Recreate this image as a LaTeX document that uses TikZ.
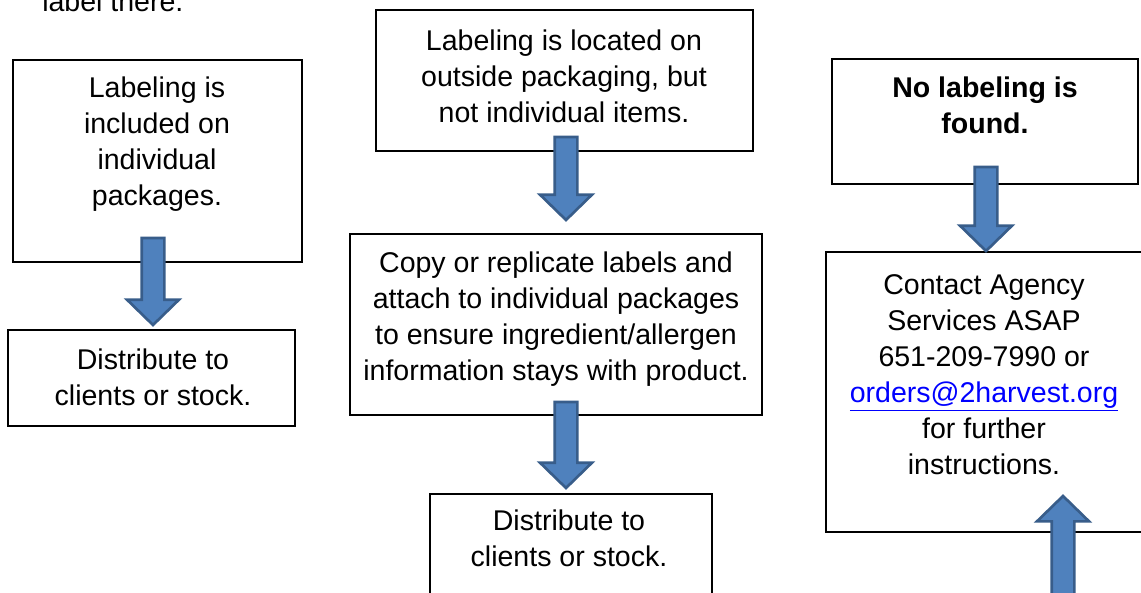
\documentclass[tikz,border=0pt]{standalone}
\usepackage{fontspec}
\setmainfont{Liberation Sans}
\usetikzlibrary{calc,fit}

\definecolor{arrowfill}{RGB}{79,129,189}
\definecolor{arrowline}{RGB}{56,93,138}
\definecolor{linkblue}{RGB}{0,0,255}

\tikzset{
  box/.style={draw, line width=1.1pt, fill=white, inner sep=0pt},
  txt/.style={align=center, inner sep=0pt, font=\fontsize{21.4}{27}\selectfont},
  blockarrow/.style={draw=arrowline, fill=arrowfill, line width=2pt, line join=miter,
    to path={let \p1=(\tikztostart), \p2=(\tikztotarget),
      \p3=($(\tikztotarget)!19pt!(\tikztostart)$) in
      (\x1-8.5pt,\y1) -- (\x1-8.5pt,\y3) -- (\x1-19.5pt,\y3) -- (\x2,\y2)
      -- (\x1+19.5pt,\y3) -- (\x1+8.5pt,\y3) -- (\x1+8.5pt,\y1) -- cycle}}
}

\begin{document}
\begin{tikzpicture}[x=0.75pt,y=0.75pt,yscale=-1,xscale=1]
\useasboundingbox (0,0) rectangle (1141,592);

%Shape: Rectangle
\node[box, fit={(13,60) (302,262)}] (lab) {};
%Shape: Rectangle
\node[box, fit={(8,330) (295,426)}] (dist) {};
%Shape: Rectangle
\node[box, fit={(376,10) (753,151)}] (outer) {};
%Shape: Rectangle
\node[box, fit={(350,234) (762,415)}] (copy) {};
%Shape: Rectangle
\node[box, fit={(430,494) (712,610)}] (distb) {};
%Shape: Rectangle
\node[box, fit={(832,59) (1138,184)}] (nolab) {};
%Shape: Rectangle
\node[box, fit={(826,252) (1160,532)}] (contact) {};

% Text Node
\node[txt, anchor=base west] (prev) at (42,12) {label there.};
% Text Node
\node[txt] (labtxt) at (157,144) {Labeling is\\included on\\individual\\packages.};
% Text Node
\node[txt] (disttxt) at (153,377) {Distribute to\\clients or stock.};
% Text Node
\node[txt] (outertxt) at (564,76) {Labeling is located on\\outside packaging, but\\not individual items.};
% Text Node
\node[txt] (copytxt) at (556,319) {Copy or replicate labels and\\attach to individual packages\\to ensure ingredient/allergen\\information stays with product.};
% Text Node
\node[txt] (distbtxt) at (569,538) {Distribute to\\clients or stock.};
% Text Node
\node[txt, font=\fontsize{21.4}{27}\selectfont\bfseries] (nolabtxt) at (985,105) {No labeling is\\found.};
% Text Node
\node[txt] (contacttxt) at (984,375) {Contact Agency\\Services ASAP\\651-209-7990 or\\{\color{linkblue}\underline{orders@2harvest.org}}\\for further\\instructions.};

%Block Arrows
\coordinate (a1s) at (153,238);
\coordinate (a1e) at (153,325);
\coordinate (a2s) at (566,137);
\coordinate (a2e) at (566,220);
\coordinate (a3s) at (566,402);
\coordinate (a3e) at (566,488);
\coordinate (a4s) at (986,167);
\coordinate (a4e) at (986,251);
\coordinate (a5s) at (1063,610);
\coordinate (a5e) at (1063,496);
\draw[blockarrow] (a1s) to (a1e);
\draw[blockarrow] (a2s) to (a2e);
\draw[blockarrow] (a3s) to (a3e);
\draw[blockarrow] (a4s) to (a4e);
\draw[blockarrow] (a5s) to (a5e);

\end{tikzpicture}
\end{document}
